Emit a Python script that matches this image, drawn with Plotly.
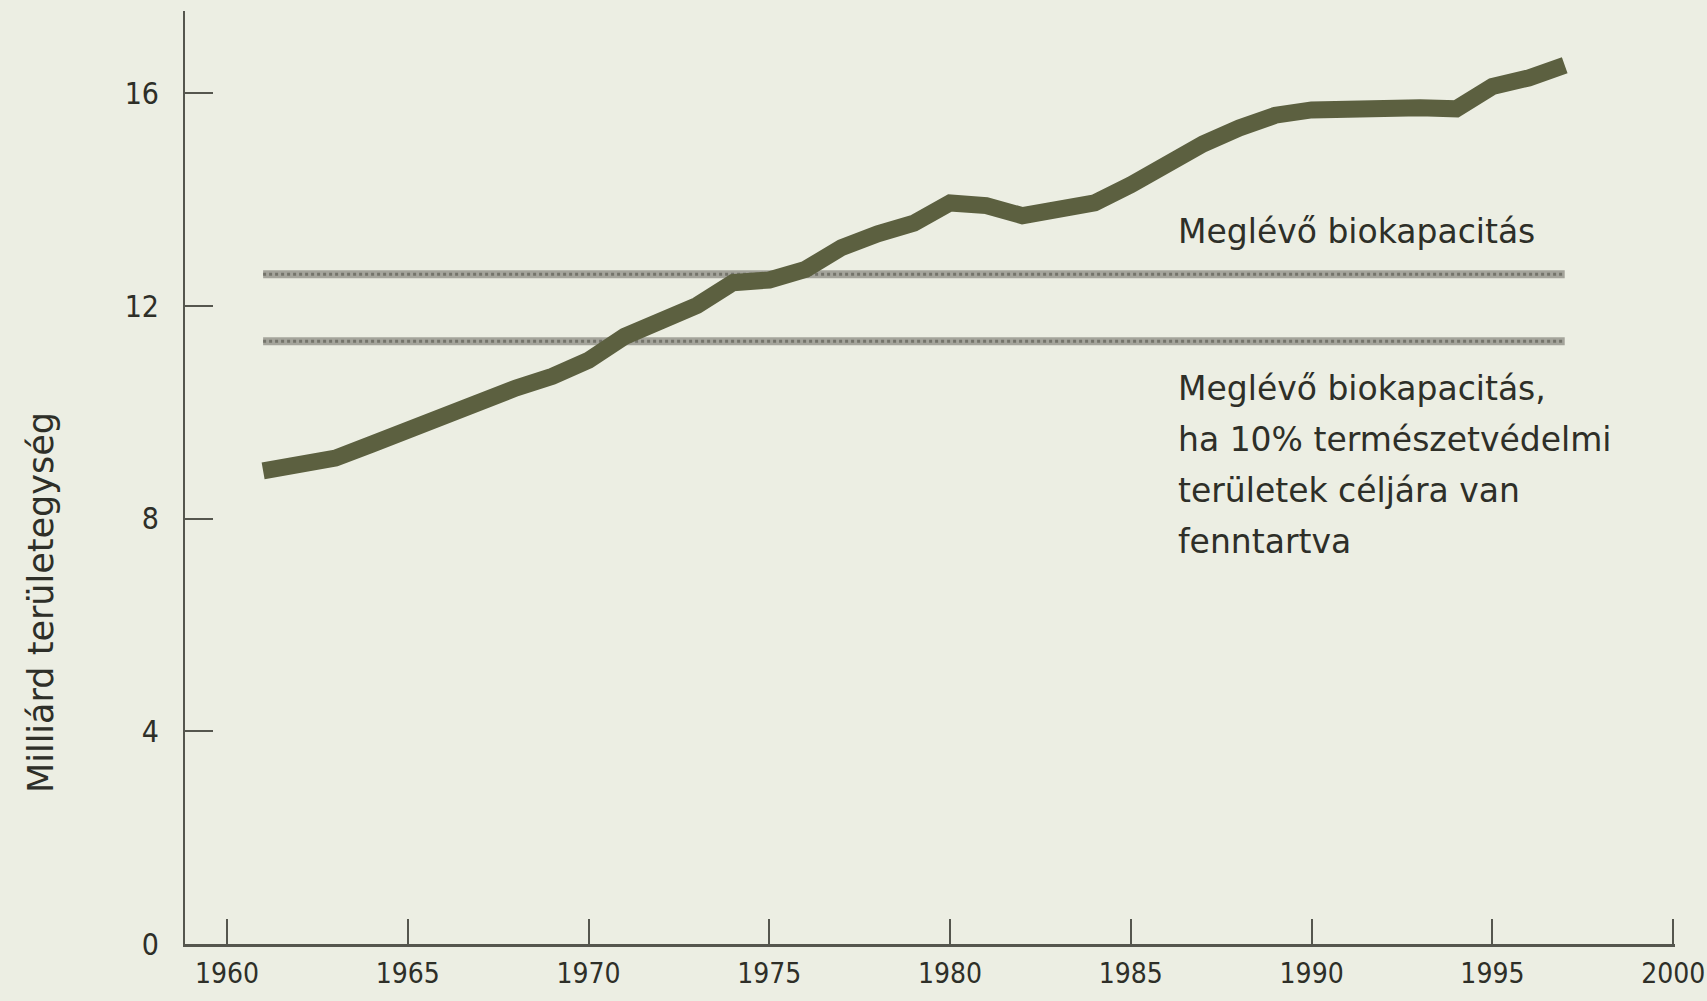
import plotly.graph_objects as go

# ---- data ----
years = list(range(1961, 1998))
footprint = [8.90, 8.98, 9.14, 9.40, 9.68, 9.94, 10.20, 10.46, 10.68, 10.98,
             11.43, 11.69, 12.01, 12.44, 12.49, 12.69, 13.10, 13.36, 13.56, 13.94,
             13.89, 13.70, 13.78, 13.94, 14.28, 14.68, 15.05, 15.35, 15.59, 15.69,
             15.72, 15.78, 15.73, 15.71, 16.13, 16.29, 16.53]

biocap_years = [1961, 1997]
biocapacity = [12.6, 12.6]
biocapacity_reserved = [11.34, 11.34]

x_ticks = [1960, 1965, 1970, 1975, 1980, 1985, 1990, 1995, 2000]
y_ticks = [0, 4, 8, 12, 16]

y_title = "Milliárd területegység"
label_full = "Meglévő biokapacitás"
label_reserved = ["Meglévő biokapacitás,", "ha 10% természetvédelmi",
                  "területek céljára van", "fenntartva"]

# ---- styling ----
BG = "#eceee3"
INK = "#2e2f28"
AXIS = "#55564e"
LINE = "#5c6040"
GREY = "#a4a49b"
GREY_DARK = "#74746b"
X_TICK_FONT = dict(family="Liberation Sans Narrow, DejaVu Sans Condensed, DejaVu Sans", size=28, color=INK)
Y_TICK_FONT = dict(family="Liberation Sans Narrow, DejaVu Sans Condensed, DejaVu Sans", size=30, color=INK)
TEXT_FONT = dict(family="DejaVu Sans, Noto Sans", size=33, color=INK)

W, H = 1707, 1001
L, R, T, B = 185, 32, 11, 57
plot_w, plot_h = W - L - R, H - T - B

def px_x(px):
    return (px - L) / plot_w

def px_y(py):
    return (H - B - py) / plot_h

fig = go.Figure()

for vals in (biocapacity, biocapacity_reserved):
    fig.add_trace(go.Scatter(x=biocap_years, y=vals, mode="lines",
                             line=dict(color=GREY, width=8), hoverinfo="skip",
                             showlegend=False))
    fig.add_trace(go.Scatter(x=biocap_years, y=vals, mode="lines",
                             line=dict(color=GREY_DARK, width=3, dash="dot"),
                             hoverinfo="skip", showlegend=False))

fig.add_trace(go.Scatter(x=years, y=footprint, mode="lines",
                         line=dict(color=LINE, width=17), showlegend=False))

annotations = [
    dict(text=label_full, x=px_x(1176), y=px_y(231), xref="paper", yref="paper",
         xanchor="left", yanchor="middle", showarrow=False, font=TEXT_FONT),
    dict(text=y_title, x=px_x(41), y=px_y(603), xref="paper", yref="paper",
         xanchor="center", yanchor="middle", textangle=-90, showarrow=False,
         font=dict(family="DejaVu Sans, Noto Sans", size=35, color=INK)),
]
line_y = [389, 439, 490, 541]
for txt, py in zip(label_reserved, line_y):
    annotations.append(dict(text=txt, x=px_x(1176), y=px_y(py), xref="paper", yref="paper",
                            xanchor="left", yanchor="middle", showarrow=False, font=TEXT_FONT))

x_min = 1960 - (227 - 185) / 36.2

fig.update_layout(
    width=W, height=H,
    margin=dict(l=L, r=R, t=T, b=B, pad=0, autoexpand=False),
    paper_bgcolor=BG, plot_bgcolor=BG,
    annotations=annotations,
    xaxis=dict(range=[x_min, 2000.05], tickvals=x_ticks, ticktext=[str(v) for v in x_ticks],
               ticks="inside", ticklen=25, tickwidth=1.5, tickcolor=AXIS,
               showline=True, linecolor=AXIS, linewidth=3, showgrid=False, zeroline=False,
               tickfont=X_TICK_FONT, ticklabelstandoff=2, ticklabeloverflow="allow",
               automargin=False, fixedrange=True),
    yaxis=dict(range=[0, 17.55], tickvals=y_ticks, ticktext=[str(v) for v in y_ticks],
               ticks="inside", ticklen=28, tickwidth=1.5, tickcolor=AXIS,
               showline=True, linecolor=AXIS, linewidth=2, showgrid=False, zeroline=False,
               tickfont=Y_TICK_FONT, ticklabelstandoff=18, ticklabeloverflow="allow",
               automargin=False, fixedrange=True),
)

fig.write_html("out.html", config={"displayModeBar": False},
               post_script="document.body.style.margin='0';document.body.style.overflow='hidden';")
